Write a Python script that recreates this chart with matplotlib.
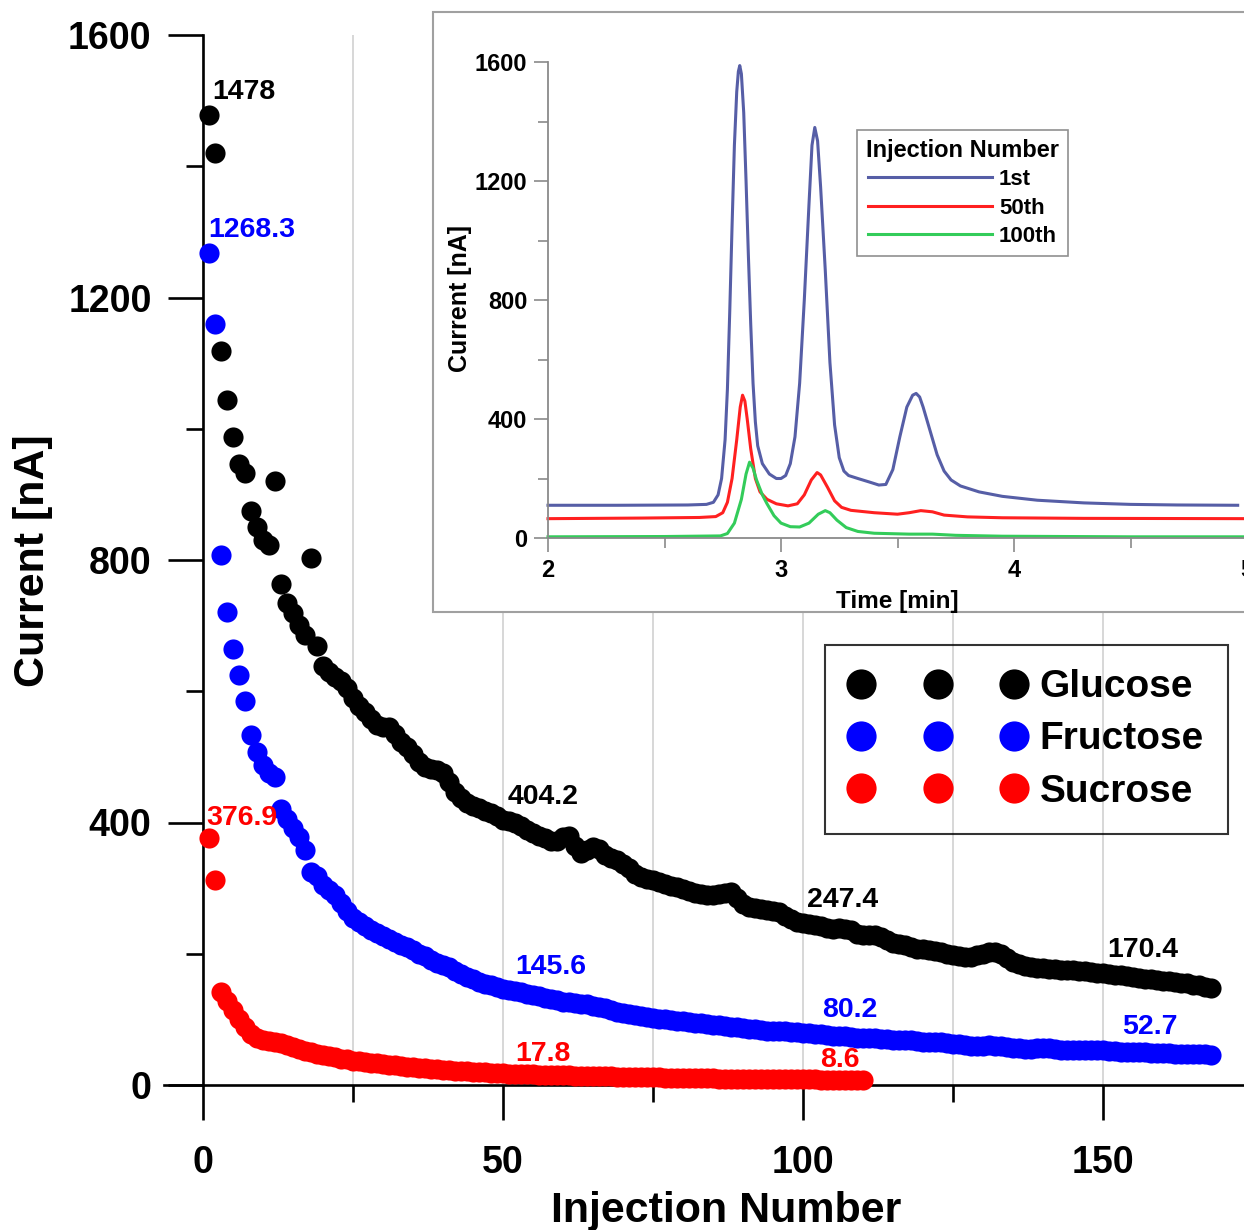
import matplotlib
matplotlib.use("Agg")
import matplotlib.pyplot as plt
from matplotlib.patches import Rectangle
from matplotlib.ticker import MultipleLocator

plt.rcParams['font.family'] = ['Liberation Sans', 'DejaVu Sans']
NARROW = ['Liberation Sans Narrow', 'Liberation Sans', 'DejaVu Sans']

# ---------------- main data ----------------
glucose = [1478, 1420, 1118, 1044, 987, 946, 933, 875, 850, 830,
           823, 920, 763, 734, 719, 701, 686, 803, 669, 638,
           630, 622, 615, 605, 590, 578, 568, 558, 549, 545,
           546, 535, 522, 515, 505, 492, 485, 482, 480, 476,
           462, 446, 438, 430, 425, 422, 418, 414, 410, 404,
           402, 399, 394, 389, 384, 380, 376, 372, 372, 378,
           380, 364, 354, 358, 363, 360, 350, 346, 343, 337,
           330, 322, 317, 314, 312, 309, 307, 304, 301, 298,
           295, 292, 291, 290, 290, 291, 292, 294, 285, 276,
           272, 270, 268, 266, 265, 264, 258, 253, 249, 247,
           246, 244, 242, 240, 238, 239, 237, 236, 230, 229,
           229, 229, 225, 221, 217, 215, 213, 210, 208, 207,
           206, 204, 203, 200, 198, 196, 195, 195, 198, 200,
           202, 203, 199, 193, 188, 184, 182, 180, 179, 178,
           177, 177, 176, 176, 175, 174, 173, 172, 171, 170,
           169, 168, 167, 166, 164, 163, 162, 161, 160, 159,
           158, 157, 156, 155, 153, 152, 150, 148]
fructose = [1268, 1160, 808, 721, 664, 625, 585, 533, 507, 487,
            475, 469, 420, 405, 392, 378, 358, 325, 318, 305,
            297, 289, 278, 265, 254, 248, 242, 236, 231, 227,
            222, 218, 214, 210, 206, 200, 196, 191, 186, 183,
            180, 174, 169, 165, 162, 157, 154, 152, 149, 146,
            145, 143, 141, 139, 137, 135, 133, 131, 129, 127,
            126, 125, 124, 123, 121, 119, 117, 114, 112, 110,
            108, 106, 105, 103, 102, 101, 100, 99, 98, 97,
            96, 95, 94, 93, 92, 91, 90, 89, 88, 87,
            86, 85, 84, 83, 83, 82, 82, 81, 81, 80,
            79, 78, 77, 76, 75, 74, 74, 73, 72, 72,
            71, 71, 70, 70, 69, 69, 68, 68, 67, 66,
            66, 65, 65, 64, 63, 62, 61, 60, 59, 60,
            61, 60, 59, 58, 57, 56, 55, 55, 56, 57,
            56, 55, 54, 54, 53, 53, 53, 53, 53, 53,
            52, 52, 51, 51, 50, 50, 50, 49, 49, 49,
            49, 48, 48, 48, 47, 47, 47, 46]
sucrose = [377, 312, 142, 128, 114, 100, 88, 78, 72, 69,
           67, 66, 64, 61, 58, 55, 52, 50, 48, 46,
           44, 42, 40, 39, 37, 36, 35, 34, 33, 32,
           31, 30, 29, 28, 27, 26, 25.5, 25, 24, 23,
           22.5, 22, 21.5, 21, 20.5, 20, 19.5, 19, 18.5, 17.8,
           17.5, 17.2, 16.9, 16.6, 16.3, 16, 15.7, 15.4, 15.1, 14.8,
           14.5, 14.3, 14.1, 13.9, 13.7, 13.5, 13.3, 13.1, 12.9, 12.7,
           12.5, 12.3, 12.1, 11.9, 11.7, 11.5, 11.3, 11.1, 10.9, 10.8,
           10.6, 10.5, 10.3, 10.2, 10.0, 9.9, 9.8, 9.7, 9.6, 9.5,
           9.4, 9.3, 9.2, 9.1, 9.0, 8.9, 8.8, 8.8, 8.7, 8.6,
           8.5, 8.4, 8.3, 8.2, 8.1, 8.0, 7.9, 7.8, 7.8, 7.7]
inj_glu = list(range(1, len(glucose) + 1))
inj_fru = list(range(1, len(fructose) + 1))
inj_suc = list(range(1, len(sucrose) + 1))

series_names = ['Glucose', 'Fructose', 'Sucrose']
series_colors = ['#000000', '#0000ff', '#ff0000']

# value annotations: (x, y, text, color)
annotations = [
    (1.5, 1502, '1478', '#000000'),
    (0.8, 1292, '1268.3', '#0000ff'),
    (0.5, 396, '376.9', '#ff0000'),
    (50.7, 428, '404.2', '#000000'),
    (100.7, 271, '247.4', '#000000'),
    (150.7, 195, '170.4', '#000000'),
    (52.0, 169, '145.6', '#0000ff'),
    (103.2, 104, '80.2', '#0000ff'),
    (153.2, 78, '52.7', '#0000ff'),
    (52.0, 37, '17.8', '#ff0000'),
    (102.8, 27, '8.6', '#ff0000'),
]

# ---------------- inset data ----------------
t_1st = [2.00, 2.30, 2.60, 2.68, 2.71, 2.73, 2.745, 2.76, 2.77, 2.78,
         2.79, 2.80, 2.81, 2.817, 2.823, 2.83, 2.84, 2.85, 2.86, 2.87,
         2.88, 2.89, 2.90, 2.92, 2.95, 2.98, 3.00, 3.02, 3.04, 3.06,
         3.08, 3.10, 3.12, 3.133, 3.145, 3.157, 3.17, 3.19, 3.21, 3.23,
         3.25, 3.27, 3.29, 3.33, 3.38, 3.42, 3.45, 3.48, 3.51, 3.54,
         3.565, 3.58, 3.595, 3.61, 3.64, 3.67, 3.70, 3.73, 3.77, 3.85,
         3.95, 4.10, 4.30, 4.50, 4.70, 4.96]
i_1st = [110, 110, 111, 113, 120, 145, 200, 330, 500, 760,
         1050, 1320, 1500, 1568, 1588, 1560, 1430, 1200, 950, 720,
         520, 390, 310, 250, 215, 200, 200, 210, 250, 340,
         520, 800, 1120, 1320, 1380, 1335, 1180, 900, 590, 380,
         270, 225, 210, 200, 188, 178, 180, 230, 340, 440,
         480, 486, 474, 440, 360, 280, 225, 195, 175, 155,
         140, 127, 118, 113, 111, 110]
t_50th = [2.00, 2.40, 2.65, 2.72, 2.75, 2.77, 2.79, 2.81, 2.825, 2.835,
          2.845, 2.855, 2.87, 2.89, 2.91, 2.94, 2.98, 3.03, 3.07, 3.10,
          3.13, 3.155, 3.17, 3.20, 3.23, 3.26, 3.30, 3.40, 3.50, 3.55,
          3.60, 3.65, 3.70, 3.80, 3.95, 4.30, 5.00]
i_50th = [65, 67, 69, 72, 85, 120, 200, 330, 440, 480,
          460, 400, 300, 200, 155, 130, 115, 108, 115, 145,
          195, 220, 212, 170, 125, 103, 93, 85, 80, 85,
          92, 88, 77, 71, 68, 66, 65]
t_100th = [2.00, 2.50, 2.74, 2.77, 2.80, 2.83, 2.85, 2.865, 2.88, 2.895,
           2.92, 2.94, 2.97, 3.00, 3.04, 3.08, 3.12, 3.16, 3.19, 3.21,
           3.24, 3.28, 3.33, 3.40, 3.55, 3.65, 3.75, 3.95, 4.50, 5.00]
i_100th = [4, 5, 7, 15, 50, 130, 215, 255, 235, 195,
           145, 115, 75, 50, 38, 37, 50, 80, 92, 85,
           60, 35, 22, 16, 13, 13, 9, 6, 4, 4]
inset_names = ['1st', '50th', '100th']
inset_colors = ['#565ea6', '#ff2020', '#33cc5a']

# ---------------- figure ----------------
W, H = 1244, 1230
fig = plt.figure(figsize=(W / 100, H / 100), dpi=100)

def fx(px):
    return px / W

def fy(py):
    return (H - py) / H

ax = fig.add_axes([fx(164), fy(1085), (1244 - 164) / W, (1085 - 35) / H])
ax.set_xlim(-6.5, 173.5)
ax.set_ylim(0, 1600)
for side in ['top', 'right']:
    ax.spines[side].set_visible(False)
ax.spines['left'].set_position(('data', 0))
for side in ['left', 'bottom']:
    ax.spines[side].set_linewidth(1.9)
ax.xaxis.set_major_locator(MultipleLocator(50))
ax.xaxis.set_minor_locator(MultipleLocator(25))
ax.yaxis.set_major_locator(MultipleLocator(400))
ax.yaxis.set_minor_locator(MultipleLocator(200))
ax.tick_params(which='major', direction='out', length=25, width=1.9,
               labelsize=27)
ax.tick_params(axis='y', which='major', pad=12)
ax.tick_params(axis='x', which='major', pad=18)
ax.tick_params(which='minor', direction='out', length=12.5, width=1.9)
for lab in ax.get_xticklabels() + ax.get_yticklabels():
    lab.set_fontweight('bold')
ax.grid(True, axis='x', which='both', color='#d4d4d4', linewidth=1.3, zorder=0)
ax.set_axisbelow(True)

handles = []
for xs, ys, name, col in zip([inj_glu, inj_fru, inj_suc],
                             [glucose, fructose, sucrose],
                             series_names, series_colors):
    h, = ax.plot(xs, ys, linestyle='none', marker='o', markersize=14.5,
                 markerfacecolor=col, markeredgecolor=col, markeredgewidth=0,
                 color=col, label=name, clip_on=False, zorder=3)
    handles.append(h)

for x, y, s, c in annotations:
    ax.text(x, y, s, color=c, fontsize=20.5, fontweight='bold',
            ha='left', va='baseline', zorder=4)

ax.set_xlabel('Injection Number', fontsize=31, fontweight='bold')
ax.xaxis.set_label_coords((726 - 164) / 1080, -(1222 - 1085) / 1050)
ax.xaxis.label.set_verticalalignment('baseline')
ax.set_ylabel('Current [nA]', fontsize=31, fontweight='bold')
ax.yaxis.set_label_coords((33 - 164) / 1080, (1085 - 561) / 1050)
ax.yaxis.label.set_verticalalignment('center')

leg = ax.legend(handles=handles, loc='upper left', numpoints=3,
                bbox_to_anchor=(fx(825), fy(645)), bbox_transform=fig.transFigure,
                borderaxespad=0, markerscale=1.5,
                handlelength=4.55, handletextpad=0.35, labelspacing=0.42,
                borderpad=0.62, frameon=True, fancybox=False,
                prop={'weight': 'bold', 'size': 28})
leg.get_frame().set_facecolor('none')
leg.get_frame().set_edgecolor('#000000')
leg.get_frame().set_linewidth(1.5)

# ---------------- inset ----------------
box = Rectangle((fx(433), fy(612)), (1260 - 433) / W, (612 - 12) / H,
                transform=fig.transFigure, facecolor='white',
                edgecolor='#a0a0a0', linewidth=1.5, zorder=5)
fig.patches.append(box)

ins = fig.add_axes([fx(548), fy(538), (1247 - 548) / W, (538 - 62) / H], zorder=6)
ins.set_facecolor('none')
ins.set_xlim(2, 5)
ins.set_ylim(0, 1600)
for side in ['top', 'right']:
    ins.spines[side].set_visible(False)
for side in ['left', 'bottom']:
    ins.spines[side].set_color('#8a8a8a')
    ins.spines[side].set_linewidth(1.3)
ins.xaxis.set_major_locator(MultipleLocator(1))
ins.xaxis.set_minor_locator(MultipleLocator(0.5))
ins.yaxis.set_major_locator(MultipleLocator(400))
ins.yaxis.set_minor_locator(MultipleLocator(200))
ins.tick_params(which='major', direction='out', length=10, width=1.2,
                color='#8a8a8a', labelsize=17, pad=5)
ins.tick_params(which='minor', direction='out', length=7, width=1.2,
                color='#8a8a8a')
for lab in ins.get_xticklabels() + ins.get_yticklabels():
    lab.set_fontweight('bold')
    lab.set_family(NARROW)

ilines = []
for ts, vs, name, col in zip([t_1st, t_50th, t_100th],
                             [i_1st, i_50th, i_100th],
                             inset_names, inset_colors):
    ln, = ins.plot(ts, vs, color=col, linewidth=2.2, label=name,
                   solid_joinstyle='round', clip_on=False)
    ilines.append(ln)

ins.set_xlabel('Time [min]', fontsize=17.5, fontweight='bold', family=NARROW)
ins.xaxis.set_label_coords((897 - 548) / 699, -(608 - 538) / 476)
ins.xaxis.label.set_verticalalignment('baseline')
ins.set_ylabel('Current [nA]', fontsize=18, fontweight='bold', family=NARROW)
ins.yaxis.set_label_coords((460 - 548) / 699, (538 - 299) / 476)
ins.yaxis.label.set_verticalalignment('center')

ileg = ins.legend(handles=ilines, loc='upper left',
                  bbox_to_anchor=(fx(857), fy(130)), bbox_transform=fig.transFigure,
                  borderaxespad=0, title='Injection Number',
                  prop={'weight': 'bold', 'size': 16, 'family': NARROW},
                  title_fontproperties={'weight': 'bold', 'size': 17, 'family': NARROW},
                  handlelength=5.6, handletextpad=0.3, labelspacing=0.33,
                  borderpad=0.4, fancybox=False, frameon=True)
ileg.get_frame().set_edgecolor('#909090')
ileg.get_frame().set_linewidth(1.2)
ileg.get_frame().set_facecolor('white')
ileg.get_frame().set_alpha(1)

fig.savefig('out.png', dpi=100)
